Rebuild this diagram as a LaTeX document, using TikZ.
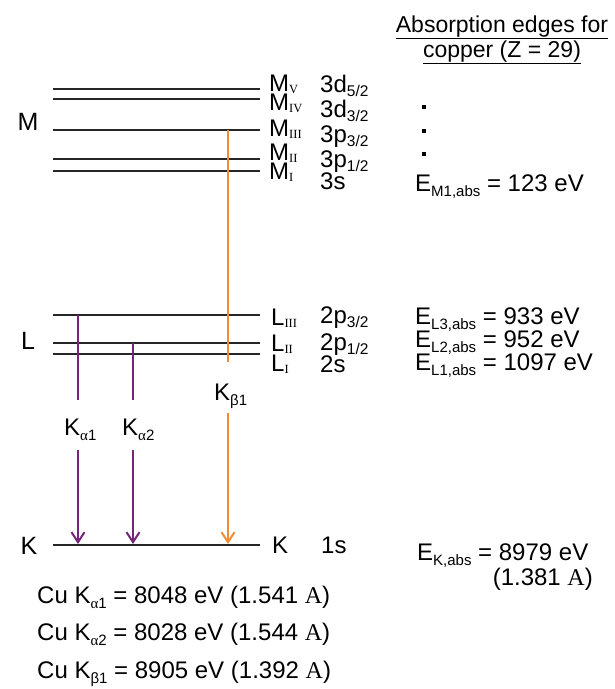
\documentclass[tikz,border=0pt]{standalone}
\usepackage{fontspec}
\setmainfont{Liberation Sans}
\newfontfamily\serifff{Liberation Serif}
\usetikzlibrary{arrows.meta}
\definecolor{kpurple}{RGB}{118,36,122}
\definecolor{korange}{RGB}{242,140,50}
\newcommand\rmsub[1]{\raisebox{-2.5pt}{\serifff\fontsize{12.5}{12.5}\selectfont #1}}
\newcommand\sfsub[1]{\raisebox{-4pt}{\fontsize{15.5}{15.5}\selectfont #1}}
\newcommand\esub[1]{\raisebox{-5pt}{\fontsize{15}{15}\selectfont #1}}
\newcommand\gsub[2]{\raisebox{-5pt}{\fontsize{15}{15}\selectfont{\serifff #1}#2}}
\newcommand\angs{{\serifff A}}
\begin{document}
\begin{tikzpicture}[x=1pt,y=-1pt,
  txt/.style={anchor=base west,inner sep=0pt,font=\fontsize{24}{24}\selectfont},
  ctxt/.style={anchor=base,inner sep=0pt,font=\fontsize{23}{23}\selectfont},
  big/.style={anchor=base,inner sep=0pt,font=\fontsize{25}{25}\selectfont},
  level/.style={line width=2.6pt,draw=black!85},
  purp/.style={line width=2.8pt,draw=kpurple},
  oran/.style={line width=2.8pt,draw=korange},
  tip/.style={-{Straight Barb[length=10pt,width=13pt,line width=2pt]}},
  dotn/.style={fill=black,inner sep=0pt,minimum size=4.5pt}]
\useasboundingbox (0,0) rectangle (615,689);
\fill[white] (0,0) rectangle (615,689);
% level end points
\foreach \n/\y in {MV/89,MIV/99,MIII/130,MII/159,MI/171,LIII/315,LII/343,LI/354,K/545}{
  \coordinate (\n l) at (53,\y);
  \coordinate (\n r) at (260,\y);
  \draw[level] (\n l) -- (\n r);
}
% shell letters
\node[big] (shM) at (28,130) {M};
\node[big] (shL) at (28,349) {L};
\node[big] (shK) at (29,554) {K};
% subshell labels
\node[txt] (lMV) at (269,91) {M\rmsub{V}};
\node[txt] (lMIV) at (269,110) {M\rmsub{IV}};
\node[txt] (lMIII) at (269,136) {M\rmsub{III}};
\node[txt] (lMII) at (269,160) {M\rmsub{II}};
\node[txt] (lMI) at (269,179) {M\rmsub{I}};
\node[txt] (oMV) at (320,92) {3d\sfsub{5/2}};
\node[txt] (oMIV) at (320,117) {3d\sfsub{3/2}};
\node[txt] (oMIII) at (320,142) {3p\sfsub{3/2}};
\node[txt] (oMII) at (320,167) {3p\sfsub{1/2}};
\node[txt] (oMI) at (320,189) {3s};
\node[txt] (lLIII) at (271,325) {L\rmsub{III}};
\node[txt] (lLII) at (271,351) {L\rmsub{II}};
\node[txt] (lLI) at (271,371) {L\rmsub{I}};
\node[txt] (oLIII) at (320,323) {2p\sfsub{3/2}};
\node[txt] (oLII) at (320,350) {2p\sfsub{1/2}};
\node[txt] (oLI) at (320,372) {2s};
\node[txt] (lK) at (272,553) {K};
\node[txt] (oK) at (321,553) {1s};
% transitions
\coordinate (a1t) at (78,315);
\coordinate (a1m) at (78,400);
\coordinate (a1n) at (78,450);
\coordinate (a1b) at (78,544);
\coordinate (a2t) at (133,343);
\coordinate (a2m) at (133,400);
\coordinate (a2n) at (133,450);
\coordinate (a2b) at (133,544);
\coordinate (bt) at (228,130);
\coordinate (bm) at (228,362);
\coordinate (bn) at (228,413);
\coordinate (bb) at (228,544);
\draw[purp] (a1t) -- (a1m);
\draw[purp,tip] (a1n) -- (a1b);
\draw[purp] (a2t) -- (a2m);
\draw[purp,tip] (a2n) -- (a2b);
\draw[oran] (bt) -- (bm);
\draw[oran,tip] (bn) -- (bb);
\node[txt] (ka1) at (64,435) {K\gsub{α}{1}};
\node[txt] (ka2) at (122,435) {K\gsub{α}{2}};
\node[txt] (kb1) at (214,400) {K\esub{β1}};
% bottom lines
\node[txt] (cu1) at (37,603) {Cu K\gsub{α}{1} = 8048 eV (1.541 \angs)};
\node[txt] (cu2) at (37,640) {Cu K\gsub{α}{2} = 8028 eV (1.544 \angs)};
\node[txt] (cu3) at (37,678) {Cu K\esub{β1} = 8905 eV (1.392 \angs)};
% right column
\node[ctxt] (t1) at (502,32) {\underline{Absorption edges for}};
\node[ctxt] (t2) at (502,57) {\underline{copper (Z = 29)}};
\node[dotn] (d1) at (424,107) {};
\node[dotn] (d2) at (424,131) {};
\node[dotn] (d3) at (424,154) {};
\node[txt] (eM1) at (415,191) {E\esub{M1,abs} = 123 eV};
\node[txt] (eL3) at (415,324) {E\esub{L3,abs} = 933 eV};
\node[txt] (eL2) at (415,347) {E\esub{L2,abs} = 952 eV};
\node[txt] (eL1) at (415,370) {E\esub{L1,abs} = 1097 eV};
\node[txt] (eK) at (417,560) {E\esub{K,abs} = 8979 eV};
\node[txt,anchor=base east] (eKa) at (593,585) {(1.381 \angs)};
\end{tikzpicture}
\end{document}
